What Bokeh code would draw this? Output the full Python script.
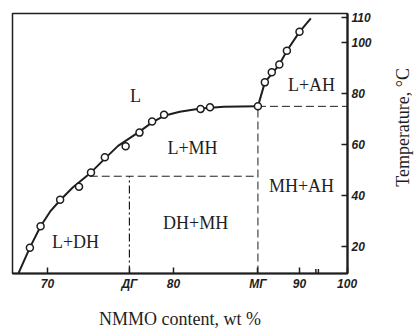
from math import pi
from bokeh.plotting import figure
from bokeh.layouts import row
from bokeh.models import ColumnDataSource, FixedTicker
from bokeh.core.properties import value
from bokeh.embed import file_html
from bokeh.resources import INLINE

# ---- data (NMMO content wt %, temperature °C) ----
# experimental points, dihydrate / monohydrate side
pts_low_x = [68.6, 69.45, 71.0, 72.5, 73.45, 74.55, 76.2, 77.3, 78.3, 79.25, 82.15, 82.9]
pts_low_t = [19.7, 28.1, 38.5, 43.6, 49.2, 55.1, 59.5, 64.8, 69.2, 71.8, 74.1, 74.7]
# eutectic point at monohydrate composition
eut_x = [86.7]
eut_t = [75.1]
# experimental points, anhydrous side
pts_high_x = [87.25, 87.8, 88.4, 89.0, 90.0]
pts_high_t = [84.5, 88.5, 91.5, 96.9, 104.3]

# liquidus curve
liq_low_x = [67.7, 68.6, 69.45, 70.2, 71.0, 72.0, 73.45, 74.55, 75.6, 77.3, 78.3, 79.25, 80.5, 82.15, 84.0, 86.7]
liq_low_t = [9.7, 19.7, 28.1, 33.8, 38.3, 43.3, 49.2, 54.6, 59.6, 65.2, 68.8, 71.4, 73.0, 74.3, 74.9, 75.1]
liq_high_x = [86.7, 87.25, 88.4, 89.0, 90.0, 90.9]
liq_high_t = [75.1, 84.5, 91.5, 96.9, 104.3, 109.6]

# phase boundaries
dh_x = 76.5          # ДГ composition
mh_x = 86.7          # МГ composition
eutectic_t = 75.1
peritectic_t = 47.7
peritectic_x = 73.35

# axis ticks
x_ticks = [70, 76.5, 80, 86.7, 90, 93.78]
x_tick_labels = ["70", "ДГ", "80", "МГ", "90", "100"]
y_ticks = [20, 40, 60, 80, 100, 110]

# region labels
region_text = ["L", "L+MH", "L+AH", "MH+AH", "DH+MH", "L+DH"]
region_x = [76.98, 81.51, 90.95, 90.16, 81.75, 72.22]
region_t = [79.1, 58.6, 83.3, 44.0, 29.2, 21.9]

y_title = "Temperature, °C"
x_title = "NMMO content, wt %"

X0, X1 = 67.22, 93.81
Y0, Y1 = 9.57, 111.5
INK = "#1e1e1e"

p = figure(width=390, height=331, x_range=(X0, X1), y_range=(Y0, Y1),
           y_axis_location="right", output_backend="svg", toolbar_location=None,
           min_border_left=12, min_border_top=13, min_border_right=43, min_border_bottom=54)
p.background_fill_color = "white"
p.border_fill_color = "white"
p.outline_line_color = INK
p.outline_line_width = 1.5
p.xgrid.grid_line_color = None
p.ygrid.grid_line_color = None

for ax in (p.xaxis[0], p.yaxis[0]):
    ax.axis_line_color = INK
    ax.axis_line_width = 2.2
    ax.major_tick_in = 6
    ax.major_tick_out = 0
    ax.major_tick_line_color = INK
    ax.major_tick_line_width = 1.5
    ax.minor_tick_line_color = None
    ax.major_label_text_font = "Liberation Sans"
    ax.major_label_text_font_style = "bold italic"
    ax.major_label_text_font_size = "12px"
    ax.major_label_text_color = INK

p.xaxis.ticker = FixedTicker(ticks=x_ticks)
p.xaxis.major_label_overrides = {t: s for t, s in zip(x_ticks, x_tick_labels)}
p.xaxis.major_label_standoff = 3
p.xaxis.axis_label = x_title
p.xaxis.axis_label_text_font = "Liberation Serif"
p.xaxis.axis_label_text_font_style = "normal"
p.xaxis.axis_label_text_font_size = "18px"
p.xaxis.axis_label_text_color = INK
p.xaxis.axis_label_standoff = 15

p.yaxis.ticker = FixedTicker(ticks=y_ticks)
p.yaxis.major_label_standoff = 4

# dashed phase-boundary lines
p.segment(x0=[mh_x], y0=[eutectic_t], x1=[X1], y1=[eutectic_t],
          line_color=INK, line_width=1, line_dash="8 4")
p.segment(x0=[mh_x], y0=[Y0], x1=[mh_x], y1=[eutectic_t],
          line_color=INK, line_width=1, line_dash="8 4")
p.segment(x0=[peritectic_x], y0=[peritectic_t], x1=[mh_x], y1=[peritectic_t],
          line_color=INK, line_width=1, line_dash="8 4")
p.segment(x0=[dh_x], y0=[Y0], x1=[dh_x], y1=[peritectic_t],
          line_color=INK, line_width=1.2, line_dash="8 3 2 3")

# axis break mark
p.segment(x0=[91.3, 91.5], y0=[Y0, Y0], x1=[91.3, 91.5], y1=[Y0 + 1.8, Y0 + 1.8],
          line_color=INK, line_width=1.5)

# liquidus lines
p.line(liq_low_x, liq_low_t, line_color=INK, line_width=2)
p.line(liq_high_x, liq_high_t, line_color=INK, line_width=2)

# experimental points
p.scatter(pts_low_x + eut_x + pts_high_x, pts_low_t + eut_t + pts_high_t,
          marker="circle", size=7, fill_color="white", line_color=INK, line_width=1.5)

# region labels
src = ColumnDataSource(dict(x=region_x, y=region_t, text=region_text))
p.text(x="x", y="y", text="text", source=src, text_font=value("Liberation Serif"),
       text_font_size="18px", text_align="center", text_baseline="middle", text_color=INK)

# y-axis title strip (reads bottom to top, centred on the plot frame)
q = figure(width=27, height=331, x_range=(0, 27), y_range=(0, 331),
           x_axis_location=None, y_axis_location=None,
           output_backend="svg", toolbar_location=None, min_border=0)
q.outline_line_color = None
q.xgrid.grid_line_color = None
q.ygrid.grid_line_color = None
q.text(x=[12], y=[186], text=[y_title], angle=pi / 2, text_font=value("Liberation Serif"),
       text_font_size="18px", text_align="center", text_baseline="middle", text_color=INK)

layout = row(p, q, spacing=0)
open("out.html", "w").write(file_html(layout, INLINE))
